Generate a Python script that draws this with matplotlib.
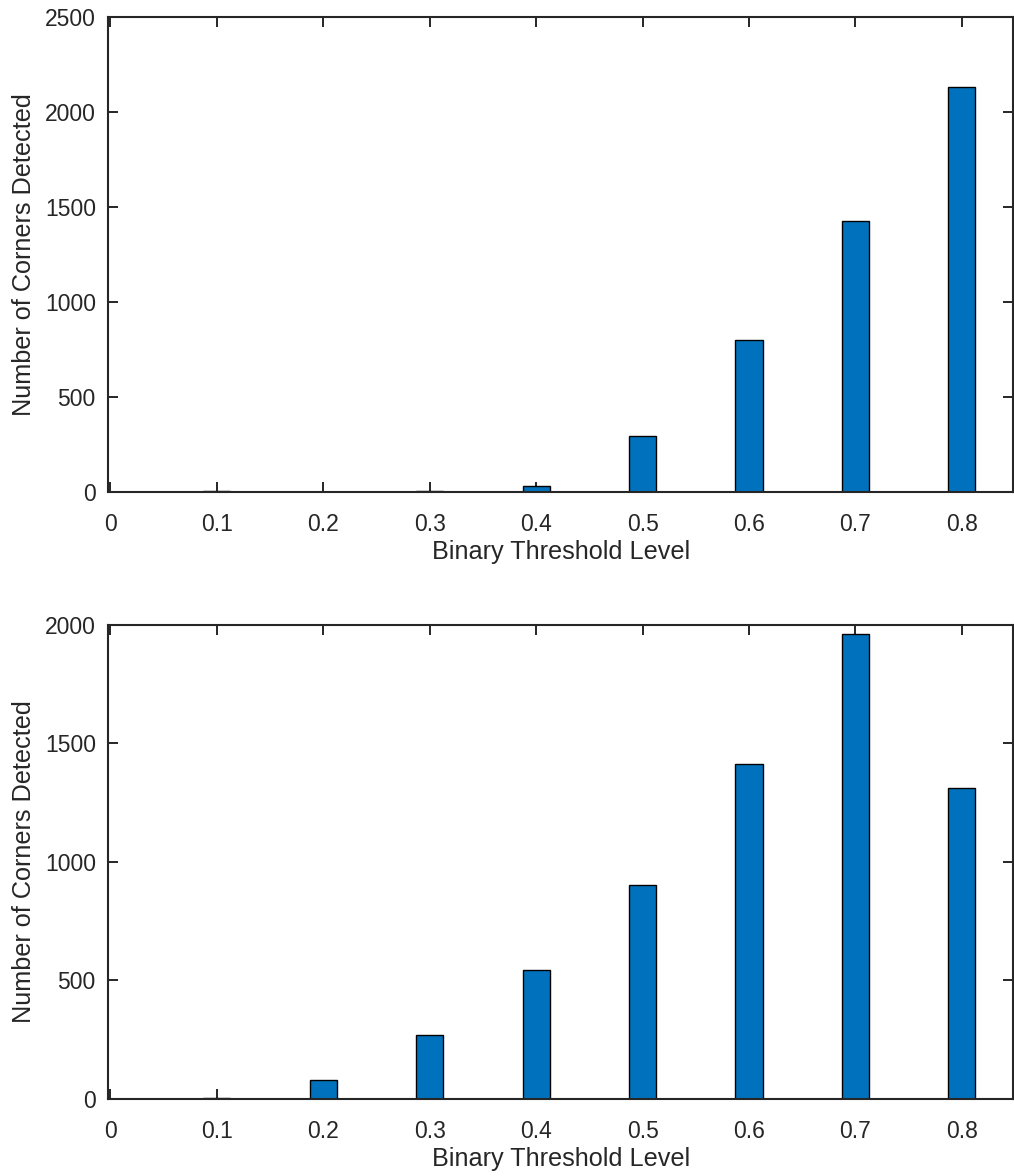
import matplotlib.pyplot as plt
import numpy as np

# threshold levels and corner counts for the two test images
thresholds = [0.1, 0.2, 0.3, 0.4, 0.5, 0.6, 0.7, 0.8]
corners_top = [1, 0, 2, 28, 293, 798, 1423, 2132]
corners_bottom = [4, 80, 270, 545, 900, 1412, 1960, 1312]
xticks = [0, 0.1, 0.2, 0.3, 0.4, 0.5, 0.6, 0.7, 0.8]
yticks_top = [0, 500, 1000, 1500, 2000, 2500]
yticks_bottom = [0, 500, 1000, 1500, 2000]

plt.rcParams['font.family'] = ['Liberation Sans', 'DejaVu Sans']
dark = '#262626'

fig = plt.figure(figsize=(10.14, 11.76), dpi=100)
ax1 = fig.add_axes([0.1068, 0.5819, 0.8922, 0.4039])
ax2 = fig.add_axes([0.1068, 0.0657, 0.8922, 0.4031])

for ax, counts, yticks in [(ax1, corners_top, yticks_top), (ax2, corners_bottom, yticks_bottom)]:
    ax.bar(thresholds, counts, width=0.0255, color='#0072BD', edgecolor='black', linewidth=1.0, zorder=2)
    ax.set_xlim(-0.002, 0.848)
    ax.set_ylim(yticks[0], yticks[-1])
    ax.set_xticks(xticks)
    ax.set_xticklabels(['0'] + ['%.1f' % t for t in xticks[1:]])
    ax.set_yticks(yticks)
    ax.tick_params(direction='in', length=7, width=1.4, colors=dark, labelsize=16.5,
                   top=True, right=True)
    ax.tick_params(axis='x', pad=15)
    ax.tick_params(axis='y', pad=9)
    for s in ax.spines.values():
        s.set_linewidth(1.5)
        s.set_color(dark)
        s.set_zorder(3)
    ax.set_xlabel('Binary Threshold Level', fontsize=18.2, color=dark, labelpad=3)
    ax.set_ylabel('Number of Corners Detected', fontsize=18.2, color=dark, labelpad=6)

fig.savefig('out.png', dpi=100)
